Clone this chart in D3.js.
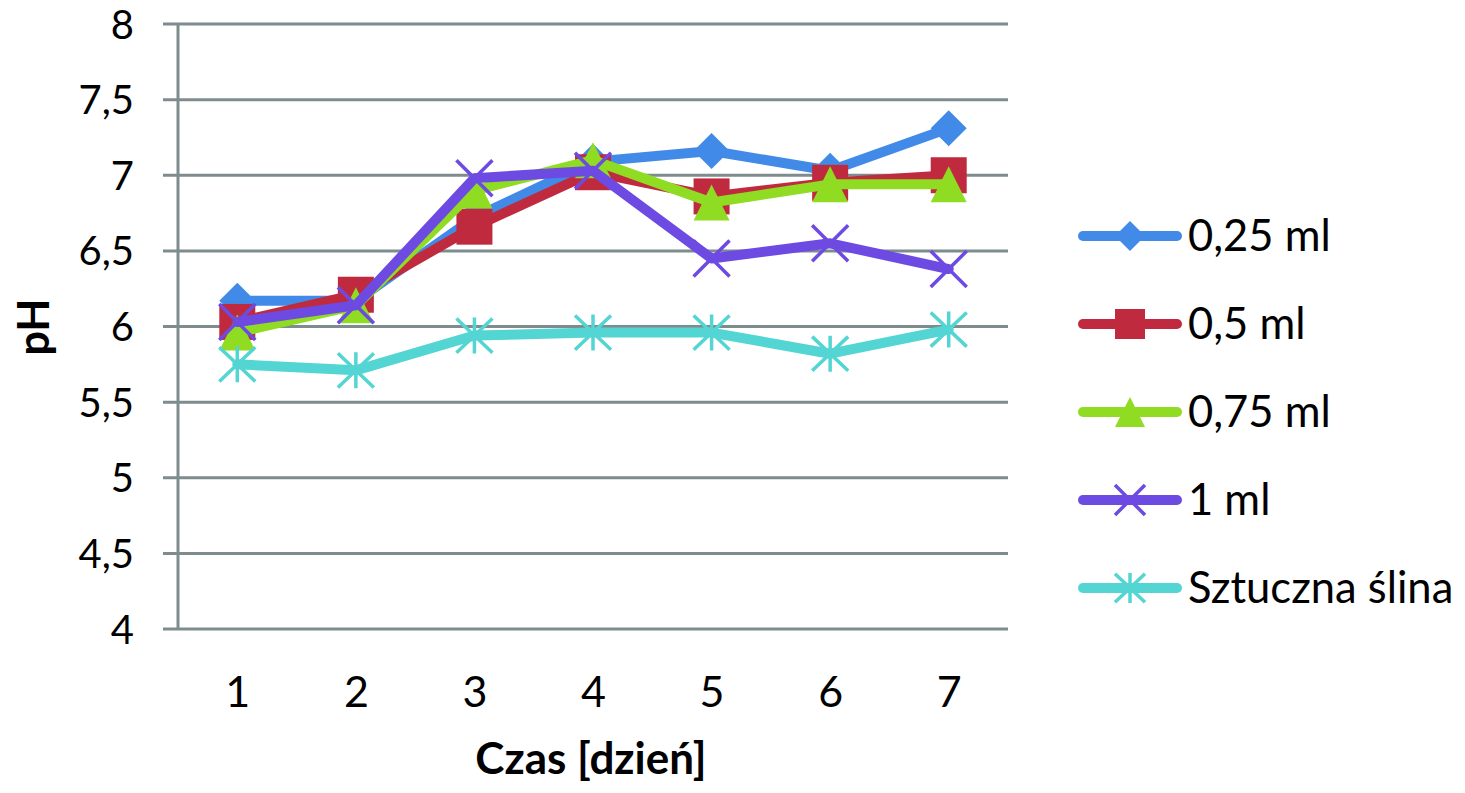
<!DOCTYPE html>
<html>
<head>
<meta charset="utf-8">
<script src="https://cdn.jsdelivr.net/npm/d3@7"></script>
<style>
  html, body { margin: 0; padding: 0; background: #fff; }
  svg { display: block; }
  text { font-family: Lato, "Open Sans", sans-serif; fill: #000; }
</style>
</head>
<body>
<svg id="chart" width="1465" height="793"></svg>
<script>
// ---- data ----
const days = ["1", "2", "3", "4", "5", "6", "7"];
const seriesNames = ["0,25 ml", "0,5 ml", "0,75 ml", "1 ml", "Sztuczna ślina"];
const s025 = [6.17, 6.17, 6.72, 7.09, 7.16, 7.03, 7.31];
const s05  = [6.03, 6.21, 6.66, 7.02, 6.86, 6.95, 7.00];
const s075 = [5.96, 6.14, 6.90, 7.10, 6.82, 6.94, 6.94];
const s1   = [6.03, 6.14, 6.98, 7.03, 6.45, 6.55, 6.38];
const sSal = [5.75, 5.71, 5.94, 5.96, 5.96, 5.82, 5.98];
const yTicks = [4, 4.5, 5, 5.5, 6, 6.5, 7, 7.5, 8];
const yTickLabels = ["4", "4,5", "5", "5,5", "6", "6,5", "7", "7,5", "8"];
const xTitle = "Czas [dzień]";
const yTitle = "pH";

const colors = ["#418AE8", "#C02A3E", "#8FDC22", "#6D4BE3", "#53D5D3"];
const markers = ["diamond", "square", "triangle", "x", "star"];
const allSeries = [s025, s05, s075, s1, sSal];

// ---- layout ----
const svg = d3.select("#chart");
const L = 178, R = 1008, T = 24, B = 629;
const gridColor = "#7F8C8D";

const x = d3.scalePoint().domain(days).range([L, R]).padding(0.5);
const y = d3.scaleLinear().domain([4, 8]).range([B, T]);

// gridlines (extend left as tick marks)
svg.append("g").selectAll("line").data(yTicks).join("line")
  .attr("x1", L - 15).attr("x2", R)
  .attr("y1", d => y(d)).attr("y2", d => y(d))
  .attr("stroke", gridColor).attr("stroke-width", 3);

// vertical axis line
svg.append("line").attr("x1", L).attr("x2", L).attr("y1", T).attr("y2", B)
  .attr("stroke", gridColor).attr("stroke-width", 3);

// y tick labels via d3 axis
const yAxis = d3.axisLeft(y).tickValues(yTicks)
  .tickFormat((d, i) => yTickLabels[i]).tickSize(0).tickPadding(0);
const gy = svg.append("g").attr("transform", `translate(134,0)`).call(yAxis);
gy.select(".domain").remove();
gy.selectAll("text").attr("font-size", 40).attr("font-family", "Lato")
  .attr("fill", "#000").attr("dy", null).attr("y", 14);

// x tick labels via d3 axis
const xAxis = d3.axisBottom(x).tickSize(0).tickPadding(0);
const gx = svg.append("g").attr("transform", `translate(0,0)`).call(xAxis);
gx.select(".domain").remove();
gx.selectAll("text").attr("font-size", 43).attr("font-family", "Lato")
  .attr("fill", "#000").attr("dy", null).attr("y", 707);

// axis titles
svg.append("text").attr("x", 591).attr("y", 774).attr("text-anchor", "middle")
  .attr("font-size", 44).attr("font-weight", "bold").text(xTitle);
svg.append("text").attr("transform", "translate(49,327) rotate(-90)")
  .attr("text-anchor", "middle").attr("font-size", 43).attr("font-weight", "bold").text(yTitle);

// marker drawing
function drawMarker(g, type, color, s) {
  const h = s / 2;
  if (type === "diamond") {
    g.append("path").attr("d", `M0,${-h}L${h},0L0,${h}L${-h},0Z`).attr("fill", color);
  } else if (type === "square") {
    g.append("rect").attr("x", -h).attr("y", -h).attr("width", s).attr("height", s).attr("fill", color);
  } else if (type === "triangle") {
    g.append("path").attr("d", `M0,${-h}L${h},${h}L${-h},${h}Z`).attr("fill", color);
  } else if (type === "x") {
    g.append("path").attr("d", `M${-h},${-h}L${h},${h}M${h},${-h}L${-h},${h}`)
      .attr("stroke", color).attr("stroke-width", 3.5).attr("fill", "none");
  } else if (type === "star") {
    g.append("path").attr("d", `M${-h},${-h * 0.95}L${h},${h * 0.95}M${h},${-h * 0.95}L${-h},${h * 0.95}M0,${-h}L0,${h}`)
      .attr("stroke", color).attr("stroke-width", 3.5).attr("fill", "none");
  }
}

const line = d3.line().x((d, i) => x(days[i])).y(d => y(d));

allSeries.forEach((vals, si) => {
  const g = svg.append("g");
  g.append("path").datum(vals).attr("d", line)
    .attr("fill", "none").attr("stroke", colors[si]).attr("stroke-width", 10)
    .attr("stroke-linejoin", "round").attr("stroke-linecap", "round");
  vals.forEach((v, i) => {
    const mg = g.append("g").attr("transform", `translate(${x(days[i])},${y(v)})`);
    drawMarker(mg, markers[si], colors[si], 36);
  });
});

// legend
const legendRows = [236, 324, 412, 500, 588];
seriesNames.forEach((name, si) => {
  const g = svg.append("g").attr("transform", `translate(0,${legendRows[si]})`);
  g.append("line").attr("x1", 1083).attr("x2", 1177).attr("y1", 0).attr("y2", 0)
    .attr("stroke", colors[si]).attr("stroke-width", 10).attr("stroke-linecap", "round");
  const mg = g.append("g").attr("transform", "translate(1130,0)");
  drawMarker(mg, markers[si], colors[si], 30);
  g.append("text").attr("x", 1188).attr("y", 15).attr("font-size", 43.5).text(name);
});
</script>
</body>
</html>
